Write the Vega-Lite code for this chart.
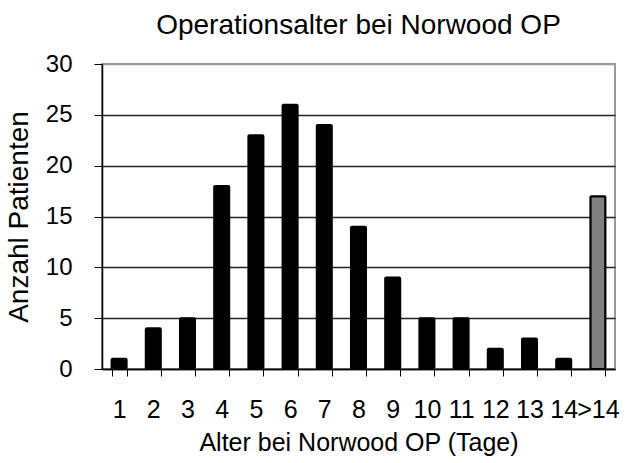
{
  "$schema": "https://vega.github.io/schema/vega-lite/v6.json",
  "width": 513,
  "height": 305,
  "autosize": {"type": "none"},
  "padding": {"left": 102, "top": 64, "right": 16, "bottom": 94},
  "background": "white",
  "title": {
    "text": "Operationsalter bei Norwood OP",
    "font": "Liberation Sans",
    "fontSize": 28,
    "fontWeight": "normal",
    "color": "black",
    "offset": 12,
    "anchor": "middle"
  },
  "config": {
    "view": {"stroke": "#9a9a9a", "strokeWidth": 2},
    "axis": {
      "labelFont": "Liberation Sans",
      "titleFont": "Liberation Sans",
      "labelColor": "black",
      "titleColor": "black",
      "titleFontWeight": "normal",
      "domainColor": "black",
      "tickColor": "black"
    }
  },
  "data": {
    "values": [
      {"alter": "1", "anzahl": 1, "gruppe": "a"},
      {"alter": "2", "anzahl": 4, "gruppe": "a"},
      {"alter": "3", "anzahl": 5, "gruppe": "a"},
      {"alter": "4", "anzahl": 18, "gruppe": "a"},
      {"alter": "5", "anzahl": 23, "gruppe": "a"},
      {"alter": "6", "anzahl": 26, "gruppe": "a"},
      {"alter": "7", "anzahl": 24, "gruppe": "a"},
      {"alter": "8", "anzahl": 14, "gruppe": "a"},
      {"alter": "9", "anzahl": 9, "gruppe": "a"},
      {"alter": "10", "anzahl": 5, "gruppe": "a"},
      {"alter": "11", "anzahl": 5, "gruppe": "a"},
      {"alter": "12", "anzahl": 2, "gruppe": "a"},
      {"alter": "13", "anzahl": 3, "gruppe": "a"},
      {"alter": "14", "anzahl": 1, "gruppe": "a"},
      {"alter": ">14", "anzahl": 17, "gruppe": "b"}
    ]
  },
  "mark": {"type": "bar", "stroke": "black", "strokeWidth": 2, "cornerRadius": 1},
  "encoding": {
    "x": {
      "field": "alter",
      "type": "ordinal",
      "sort": null,
      "scale": {"paddingInner": 0.56, "paddingOuter": 0.28},
      "axis": {
        "title": "Alter bei Norwood OP (Tage)",
        "titleFontSize": 25,
        "titlePadding": 8,
        "labelFontSize": 25,
        "labelAngle": 0,
        "labelPadding": 21,
        "tickBand": "extent",
        "tickSize": 7,
        "domainWidth": 1.5,
        "labelOverlap": false
      }
    },
    "y": {
      "field": "anzahl",
      "type": "quantitative",
      "scale": {"domain": [0, 30]},
      "axis": {
        "title": "Anzahl Patienten",
        "titleFontSize": 28,
        "titlePadding": 12,
        "labelFontSize": 24,
        "labelPadding": 22,
        "tickSize": 8,
        "values": [0, 5, 10, 15, 20, 25, 30],
        "labelOverlap": false,
        "domainWidth": 1.5,
        "gridColor": {"condition": {"test": "datum.value === 30", "value": "#9a9a9a"}, "value": "#222222"},
        "gridWidth": 1.5
      }
    },
    "color": {
      "field": "gruppe",
      "type": "nominal",
      "scale": {"domain": ["a", "b"], "range": ["#000000", "#808080"]},
      "legend": null
    }
  }
}
